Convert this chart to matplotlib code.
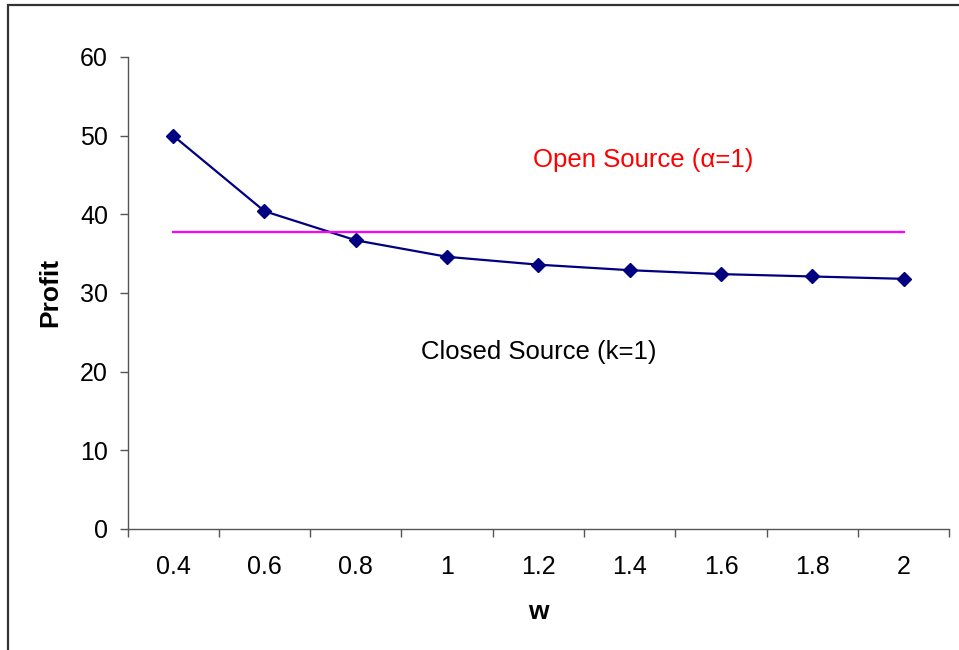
import matplotlib.pyplot as plt
from matplotlib.patches import Rectangle

plt.rcParams['font.family'] = ['Liberation Sans', 'DejaVu Sans']

# data
w_labels = ['0.4', '0.6', '0.8', '1', '1.2', '1.4', '1.6', '1.8', '2']
closed_profit = [50.0, 40.4, 36.7, 34.6, 33.6, 32.9, 32.4, 32.1, 31.8]
open_profit = 37.7

W, H = 959, 650
fig = plt.figure(figsize=(W / 100, H / 100), dpi=100)

# outer chart border (clipped by the image on the right and bottom)
fig.patches.append(Rectangle((8 / W, -0.1), 1.1, 1 - 5 / H + 0.1, transform=fig.transFigure,
                             fill=False, edgecolor='#333333', linewidth=1.6))

ax = fig.add_axes([127.5 / W, 1 - 529 / H, (949.3 - 127.5) / W, (529 - 57) / H])
x = list(range(len(w_labels)))

ax.plot(x, closed_profit, color='#000080', linewidth=1.6, marker='D', markersize=7.5)
ax.plot([x[0], x[-1]], [open_profit, open_profit], color='#ff00ff', linewidth=1.6)

ax.text(5.15, 46.9, 'Open Source (α=1)', color='red', fontsize=18.5, ha='center', va='center')
ax.text(4.0, 22.5, 'Closed Source (k=1)', color='black', fontsize=18.5, ha='center', va='center')

ax.set_xlim(-0.5, len(w_labels) - 0.5)
ax.set_ylim(0, 60)
ax.set_yticks(range(0, 61, 10))
ax.set_xticks(x)
ax.set_xticklabels(w_labels)
ax.set_xticks([i - 0.5 for i in range(len(w_labels) + 1)], minor=True)
ax.tick_params(axis='x', which='major', length=0, pad=19, labelsize=18)
ax.tick_params(axis='x', which='minor', length=6, width=1, color='#555555', direction='out')
ax.tick_params(axis='y', length=6, width=1, color='#555555', pad=8, labelsize=18)

for s in ['top', 'right']:
    ax.spines[s].set_visible(False)
for s in ['left', 'bottom']:
    ax.spines[s].set_color('#555555')
    ax.spines[s].set_linewidth(1)

fig.text(50 / W, 1 - 292 / H, 'Profit', rotation=90, fontsize=19, fontweight='bold',
         ha='center', va='center')
fig.text(538 / W, 1 - 612 / H, 'w', fontsize=19, fontweight='bold', ha='center', va='center')

fig.savefig('out.png', dpi=100)
